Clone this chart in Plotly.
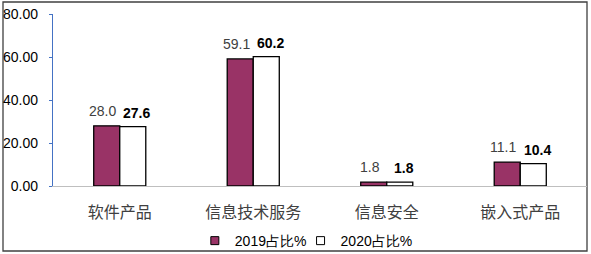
import plotly.graph_objects as go

categories = ["软件产品", "信息技术服务", "信息安全", "嵌入式产品"]
share_2019 = [28.0, 59.1, 1.8, 11.1]
share_2020 = [27.6, 60.2, 1.8, 10.4]
series_names = ["2019占比%", "2020占比%"]
y_ticks = [0, 20, 40, 60, 80]

W, H = 591, 254
L, R, T, B = 53, 4, 14, 68
pw, ph = W - L - R, H - T - B

C19 = "#993366"
fig = go.Figure()
fig.add_bar(x=categories, y=share_2019, name=series_names[0], showlegend=False,
            marker=dict(color=C19, line=dict(color="black", width=1.3)))
fig.add_bar(x=categories, y=share_2020, name=series_names[1], showlegend=False,
            marker=dict(color="white", line=dict(color="black", width=1.3)))

# legend entries (small square markers like the reference), one compact legend each
for nm, col, lg in zip(series_names, [C19, "white"], ["legend", "legend2"]):
    fig.add_scatter(x=[None], y=[None], mode="markers", name=nm, legend=lg,
                    marker=dict(symbol="square", size=8, color=col,
                                line=dict(color="black", width=1)))

# data labels
for cat, v in zip(categories, share_2019):
    fig.add_annotation(x=cat, y=v, text=f"{v:.1f}", showarrow=False,
                       xshift=-17, yshift=15, yanchor="middle",
                       font=dict(family="Arial", size=14, color="#404040"))
for cat, v in zip(categories, share_2020):
    fig.add_annotation(x=cat, y=v, text=f"<b>{v:.1f}</b>", showarrow=False,
                       xshift=17, yshift=14, yanchor="middle",
                       font=dict(family="Arial", size=14, color="black"))

leg_common = dict(orientation="h", y=-0.32, yanchor="middle", xanchor="left",
                  font=dict(family="Arial", size=14, color="black"),
                  itemwidth=30, bgcolor="rgba(0,0,0,0)", itemclick=False)
fig.update_layout(
    width=W, height=H,
    margin=dict(l=L, r=R, t=T, b=B, autoexpand=False),
    paper_bgcolor="white", plot_bgcolor="white",
    barmode="group", bargap=0.61, bargroupgap=0,
    showlegend=True,
    legend=dict(x=0.2656, **leg_common),
    legend2=dict(x=0.4636, **leg_common),
)
fig.update_xaxes(showline=True, linecolor="#BFBFBF", linewidth=1, ticks="",
                 tickfont=dict(family="Noto Sans CJK SC", size=16, color="#404040"),
                 ticklabelstandoff=12, showgrid=False, automargin=False)
fig.update_yaxes(range=[0, 80], tickvals=y_ticks, tickformat=".2f",
                 showline=True, linecolor="#4472C4", linewidth=1.3,
                 ticks="outside", ticklen=3, tickcolor="#4472C4",
                 tickfont=dict(family="Arial", size=14, color="black"),
                 ticklabelstandoff=8,
                 showgrid=False, zeroline=False, automargin=False)

# outer border
fig.add_shape(type="rect", xref="paper", yref="paper",
              x0=(3 - L) / pw, x1=(587 - L) / pw,
              y0=(T + ph - 251) / ph, y1=(T + ph - 2) / ph,
              line=dict(color="#404040", width=1.3), fillcolor="rgba(0,0,0,0)",
              layer="below")

fig.write_html("out.html")
